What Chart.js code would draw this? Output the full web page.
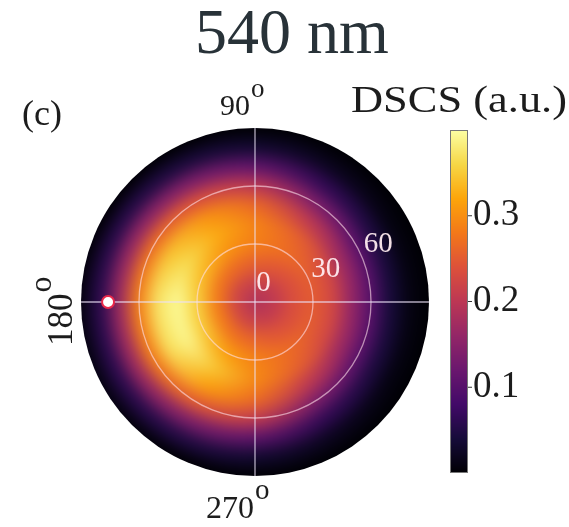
<!DOCTYPE html>
<html>
<head>
<meta charset="utf-8">
<script src="https://cdn.jsdelivr.net/npm/chart.js@4.4.1/dist/chart.umd.min.js"></script>
<style>
  body { margin: 0; background: #fff; }
  canvas { display: block; }
</style>
</head>
<body>
<canvas id="polarChart" width="569" height="527"></canvas>
<script>
// scattering angle theta (radial, deg) and azimuth phi (deg, counter-clockwise from right)
var thetaValues = [0, 10, 20, 30, 40, 50, 60, 70, 80, 90];
var phiValues = [0, 30, 60, 90, 120, 150, 180, 210, 240, 270, 300, 330];

// DSCS (a.u.) read along each azimuth, one value per theta
var dscsPhi0   = [0.18, 0.205, 0.235, 0.25, 0.225, 0.16, 0.10, 0.04, 0.01, 0.00];
var dscsPhi30  = [0.18, 0.205, 0.235, 0.255, 0.23, 0.17, 0.105, 0.045, 0.01, 0.00];
var dscsPhi60  = [0.18, 0.21, 0.245, 0.27, 0.26, 0.21, 0.14, 0.065, 0.02, 0.00];
var dscsPhi90  = [0.18, 0.215, 0.255, 0.285, 0.29, 0.265, 0.20, 0.11, 0.035, 0.00];
var dscsPhi120 = [0.18, 0.22, 0.265, 0.305, 0.325, 0.305, 0.24, 0.14, 0.045, 0.00];
var dscsPhi150 = [0.18, 0.22, 0.275, 0.335, 0.365, 0.345, 0.27, 0.16, 0.055, 0.00];
var dscsPhi180 = [0.18, 0.225, 0.285, 0.355, 0.395, 0.375, 0.29, 0.17, 0.06, 0.01];
var dscsPhi210 = [0.18, 0.225, 0.285, 0.35, 0.39, 0.37, 0.285, 0.17, 0.06, 0.01];
var dscsPhi240 = [0.18, 0.22, 0.27, 0.315, 0.345, 0.315, 0.25, 0.14, 0.05, 0.00];
var dscsPhi270 = [0.18, 0.215, 0.26, 0.29, 0.295, 0.27, 0.21, 0.11, 0.035, 0.00];
var dscsPhi300 = [0.18, 0.21, 0.245, 0.27, 0.26, 0.21, 0.14, 0.065, 0.02, 0.00];
var dscsPhi330 = [0.18, 0.205, 0.235, 0.255, 0.23, 0.17, 0.105, 0.045, 0.01, 0.00];
var dscsRows = [dscsPhi0, dscsPhi30, dscsPhi60, dscsPhi90, dscsPhi120, dscsPhi150,
                dscsPhi180, dscsPhi210, dscsPhi240, dscsPhi270, dscsPhi300, dscsPhi330];

// radar labels go clockwise from the top
var angleLabels = ["90", "0", "270", "180"];
var radialTicks = [0, 30, 60];
var colorbarTicks = [0.1, 0.2, 0.3];
var colorMin = 0.0;
var colorMax = 0.40;

// incident direction marker
var markerTheta = 76;

// inferno colormap stops
var inferno = ["#000004", "#160b39", "#420a68", "#6a176e", "#932667", "#bc3754",
               "#dd513a", "#f37819", "#fca50a", "#f6d746", "#fcffa4"];

function hexToRgb(h) {
  return [parseInt(h.substr(1, 2), 16), parseInt(h.substr(3, 2), 16), parseInt(h.substr(5, 2), 16)];
}
var infernoRgb = inferno.map(hexToRgb);

function infernoColor(v) {
  var t = (v - colorMin) / (colorMax - colorMin);
  t = Math.max(0, Math.min(1, t)) * (infernoRgb.length - 1);
  var i = Math.min(Math.floor(t), infernoRgb.length - 2);
  var f = t - i;
  var a = infernoRgb[i], b = infernoRgb[i + 1];
  return "rgb(" + Math.round(a[0] + (b[0] - a[0]) * f) + "," +
    Math.round(a[1] + (b[1] - a[1]) * f) + "," + Math.round(a[2] + (b[2] - a[2]) * f) + ")";
}

var serif = "'Liberation Serif', 'DejaVu Serif', serif";

// text with a superscript "o" (degree sign as drawn in the figure)
function drawDegree(ctx, text, x, y, size) {
  ctx.font = size + "px " + serif;
  ctx.textAlign = "left";
  ctx.textBaseline = "alphabetic";
  ctx.fillText(text, x, y);
  var w = ctx.measureText(text).width;
  ctx.font = Math.round(size * 0.9) + "px " + serif;
  ctx.fillText("o", x + w + 1, y - size * 0.6);
  return w;
}

var heatmapPlugin = {
  id: "heatmap",
  beforeDraw: function(chart) {
    var scale = chart.scales.r;
    var ctx = chart.ctx;
    var cx = scale.xCenter, cy = scale.yCenter;
    var R = scale.getDistanceFromCenterForValue(thetaValues[thetaValues.length - 1]);

    var off = document.createElement("canvas");
    off.width = chart.width;
    off.height = chart.height;
    var octx = off.getContext("2d");
    octx.fillStyle = infernoColor(0);
    octx.beginPath();
    octx.arc(cx, cy, R + 40, 0, 2 * Math.PI);
    octx.fill();

    // outermost ring first, each ring is a conic gradient over the azimuths
    for (var j = thetaValues.length - 1; j >= 0; j--) {
      var outer = scale.getDistanceFromCenterForValue(thetaValues[j] + 5);
      var grad = octx.createConicGradient(0, cx, cy);
      for (var i = 0; i < phiValues.length; i++) {
        grad.addColorStop(((360 - phiValues[i]) % 360) / 360, infernoColor(dscsRows[i][j]));
      }
      grad.addColorStop(1, infernoColor(dscsRows[0][j]));
      octx.fillStyle = grad;
      octx.beginPath();
      octx.arc(cx, cy, outer, 0, 2 * Math.PI);
      octx.fill();
    }

    ctx.save();
    ctx.beginPath();
    ctx.arc(cx, cy, R, 0, 2 * Math.PI);
    ctx.clip();
    ctx.filter = "blur(8px)";
    ctx.drawImage(off, 0, 0);
    ctx.restore();
  }
};

var labelsPlugin = {
  id: "labels",
  afterDraw: function(chart) {
    var scale = chart.scales.r;
    var ctx = chart.ctx;
    var cx = scale.xCenter, cy = scale.yCenter;
    ctx.save();

    // title
    ctx.fillStyle = "#283238";
    ctx.font = "64px " + serif;
    ctx.textAlign = "center";
    ctx.textBaseline = "alphabetic";
    ctx.fillText("540 nm", 292, 53);

    ctx.fillStyle = "#1c1c1c";
    ctx.font = "36px " + serif;
    ctx.textAlign = "left";
    ctx.fillText("(c)", 22, 125);

    // angle labels
    var R = scale.getDistanceFromCenterForValue(90);
    drawDegree(ctx, angleLabels[0], cx - 35, cy - R - 13, 30);
    drawDegree(ctx, angleLabels[2], cx - 49, cy + R + 42, 32);
    ctx.save();
    ctx.translate(cx - R - 9, cy + 44);
    ctx.rotate(-Math.PI / 2);
    drawDegree(ctx, angleLabels[3], 0, 0, 35);
    ctx.restore();

    // radial tick labels
    ctx.fillStyle = "rgba(255,236,240,0.95)";
    ctx.font = "29px " + serif;
    ctx.textAlign = "center";
    ctx.textBaseline = "middle";
    radialTicks.forEach(function(v) {
      var a = (v === 0 ? 65 : 25) * Math.PI / 180;
      var d = scale.getDistanceFromCenterForValue(v) + 20;
      ctx.fillText(String(v), cx + d * Math.cos(a), cy - d * Math.sin(a));
    });

    // colorbar
    var x0 = 450, x1 = 468, top = 130, bottom = 473;
    for (var y = top; y < bottom; y++) {
      var v = colorMax - (y + 0.5 - top) / (bottom - top) * (colorMax - colorMin);
      ctx.fillStyle = infernoColor(v);
      ctx.fillRect(x0, y, x1 - x0, 1);
    }
    ctx.strokeStyle = "#777";
    ctx.lineWidth = 1;
    ctx.strokeRect(x0 + 0.5, top + 0.5, x1 - x0 - 1, bottom - top - 1);

    ctx.fillStyle = "#1c1c1c";
    ctx.strokeStyle = "#333";
    ctx.font = "37px " + serif;
    ctx.textAlign = "left";
    ctx.textBaseline = "middle";
    colorbarTicks.forEach(function(t) {
      var ty = bottom - (t - colorMin) / (colorMax - colorMin) * (bottom - top);
      ctx.beginPath();
      ctx.moveTo(x1, ty);
      ctx.lineTo(x1 + 4, ty);
      ctx.stroke();
      ctx.fillText(t.toFixed(1), x1 + 5, ty);
    });

    // colorbar label, stretched to the width it has in the figure
    ctx.textBaseline = "alphabetic";
    ctx.font = "38px " + serif;
    var lw = ctx.measureText("DSCS (a.u.)").width;
    ctx.translate(351, 112);
    ctx.scale(216 / lw, 1);
    ctx.fillText("DSCS (a.u.)", 0, 0);
    ctx.restore();
  }
};

var ctx = document.getElementById("polarChart").getContext("2d");
new Chart(ctx, {
  type: "radar",
  data: {
    labels: angleLabels,
    datasets: [{
      data: [null, null, null, markerTheta],
      showLine: false,
      pointRadius: 6,
      pointBackgroundColor: "#ffffff",
      pointBorderColor: "#e8284a",
      pointBorderWidth: 2
    }]
  },
  options: {
    responsive: false,
    animation: false,
    layout: { padding: { left: 81, right: 140, top: 128, bottom: 51 } },
    plugins: { legend: { display: false }, tooltip: { enabled: false } },
    scales: {
      r: {
        min: 0,
        max: 90,
        ticks: { display: false, stepSize: 30 },
        pointLabels: { display: false },
        grid: {
          circular: true,
          lineWidth: 1.3,
          color: function(c) {
            return c.tick && c.tick.value === 90 ? "rgba(0,0,0,0)" : "rgba(255,225,235,0.6)";
          }
        },
        angleLines: { color: "rgba(235,225,245,0.75)", lineWidth: 1.3 }
      }
    }
  },
  plugins: [heatmapPlugin, labelsPlugin]
});
</script>
</body>
</html>
